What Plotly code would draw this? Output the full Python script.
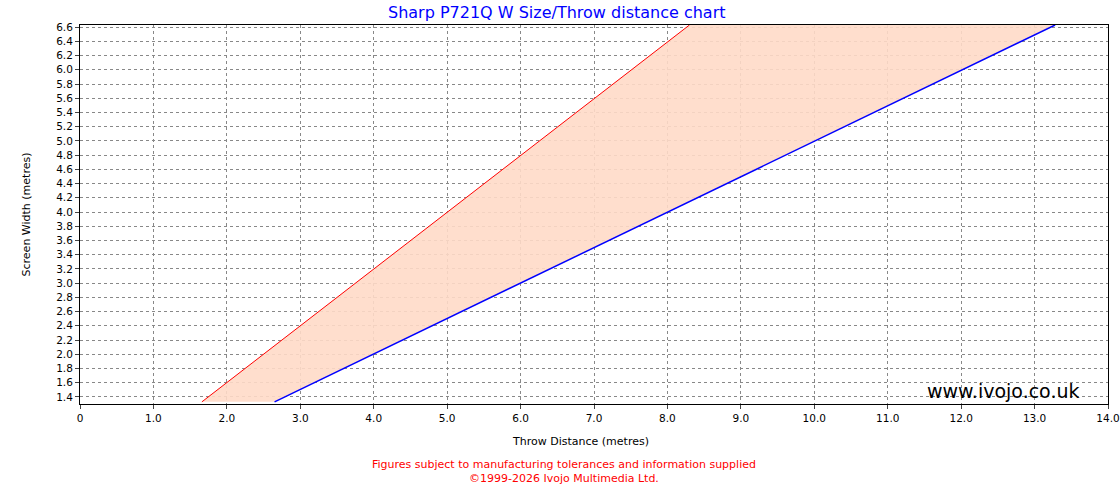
import plotly.graph_objects as go

widths = [1.33, 6.63]
min_throw = [1.66, 8.30]
max_throw = [2.65, 13.28]
x_ticks = list(range(0, 15))
x_labels = ["0"] + [f"{v:.1f}" for v in x_ticks[1:]]

fig = go.Figure()
fig.add_trace(go.Scatter(x=min_throw + max_throw[::-1], y=widths + widths[::-1],
                         fill="toself", fillcolor="rgba(255,218,200,0.9)",
                         line=dict(width=0), mode="lines", hoverinfo="skip"))
fig.add_trace(go.Scatter(x=min_throw, y=widths, mode="lines", line=dict(color="red", width=1)))
fig.add_trace(go.Scatter(x=max_throw, y=widths, mode="lines", line=dict(color="blue", width=1.5)))

fnt = dict(family="DejaVu Sans", size=11, color="black")
tickf = dict(family="DejaVu Sans", size=10.5, color="black")
fig.update_layout(
    width=1120, height=500, showlegend=False,
    paper_bgcolor="white", plot_bgcolor="white",
    margin=dict(l=80, r=12, t=25, b=96, autoexpand=False),
    font=fnt,
    xaxis=dict(range=[0, 14], tickvals=x_ticks, ticktext=x_labels, showline=True, linecolor="black",
               ticks="outside", ticklen=4, gridcolor="#888", griddash="dot", gridwidth=1, zeroline=False,
               tickfont=tickf, mirror=True, automargin=False),
    yaxis=dict(range=[1.30, 6.63], tick0=1.4, dtick=0.2, tickformat=".1f", showline=True, linecolor="black",
               ticks="outside", ticklen=4, gridcolor="#888", griddash="dot", gridwidth=1, zeroline=False,
               tickfont=tickf, mirror=True, automargin=False),
    annotations=[
        dict(text="Sharp P721Q W Size/Throw distance chart", x=0.464, y=1.034, xref="paper", yref="paper",
             xanchor="center", yanchor="middle", showarrow=False,
             font=dict(family="DejaVu Sans", size=16, color="blue")),
        dict(text="Throw Distance (metres)", x=0.487, y=-0.100, xref="paper", yref="paper",
             xanchor="center", yanchor="middle", showarrow=False, font=fnt),
        dict(text="Screen Width (metres)", x=-0.0516, y=0.5, xref="paper", yref="paper", textangle=-90,
             xanchor="center", yanchor="middle", showarrow=False, font=fnt),
        dict(text="www.ivojo.co.uk", x=0.975, y=0.0, xref="paper", yref="paper", xanchor="right",
             yanchor="bottom", showarrow=False, font=dict(family="DejaVu Sans", size=19, color="black")),
        dict(text="Figures subject to manufacturing tolerances and information supplied<br>©1999-2026 Ivojo Multimedia Ltd.",
             x=0.471, y=-0.137, xref="paper", yref="paper", xanchor="center", yanchor="top", showarrow=False,
             font=dict(family="DejaVu Sans", size=11, color="red")),
    ],
)
fig.write_html("out.html", config={"displayModeBar": False},
               post_script="document.body.style.margin='0';")
